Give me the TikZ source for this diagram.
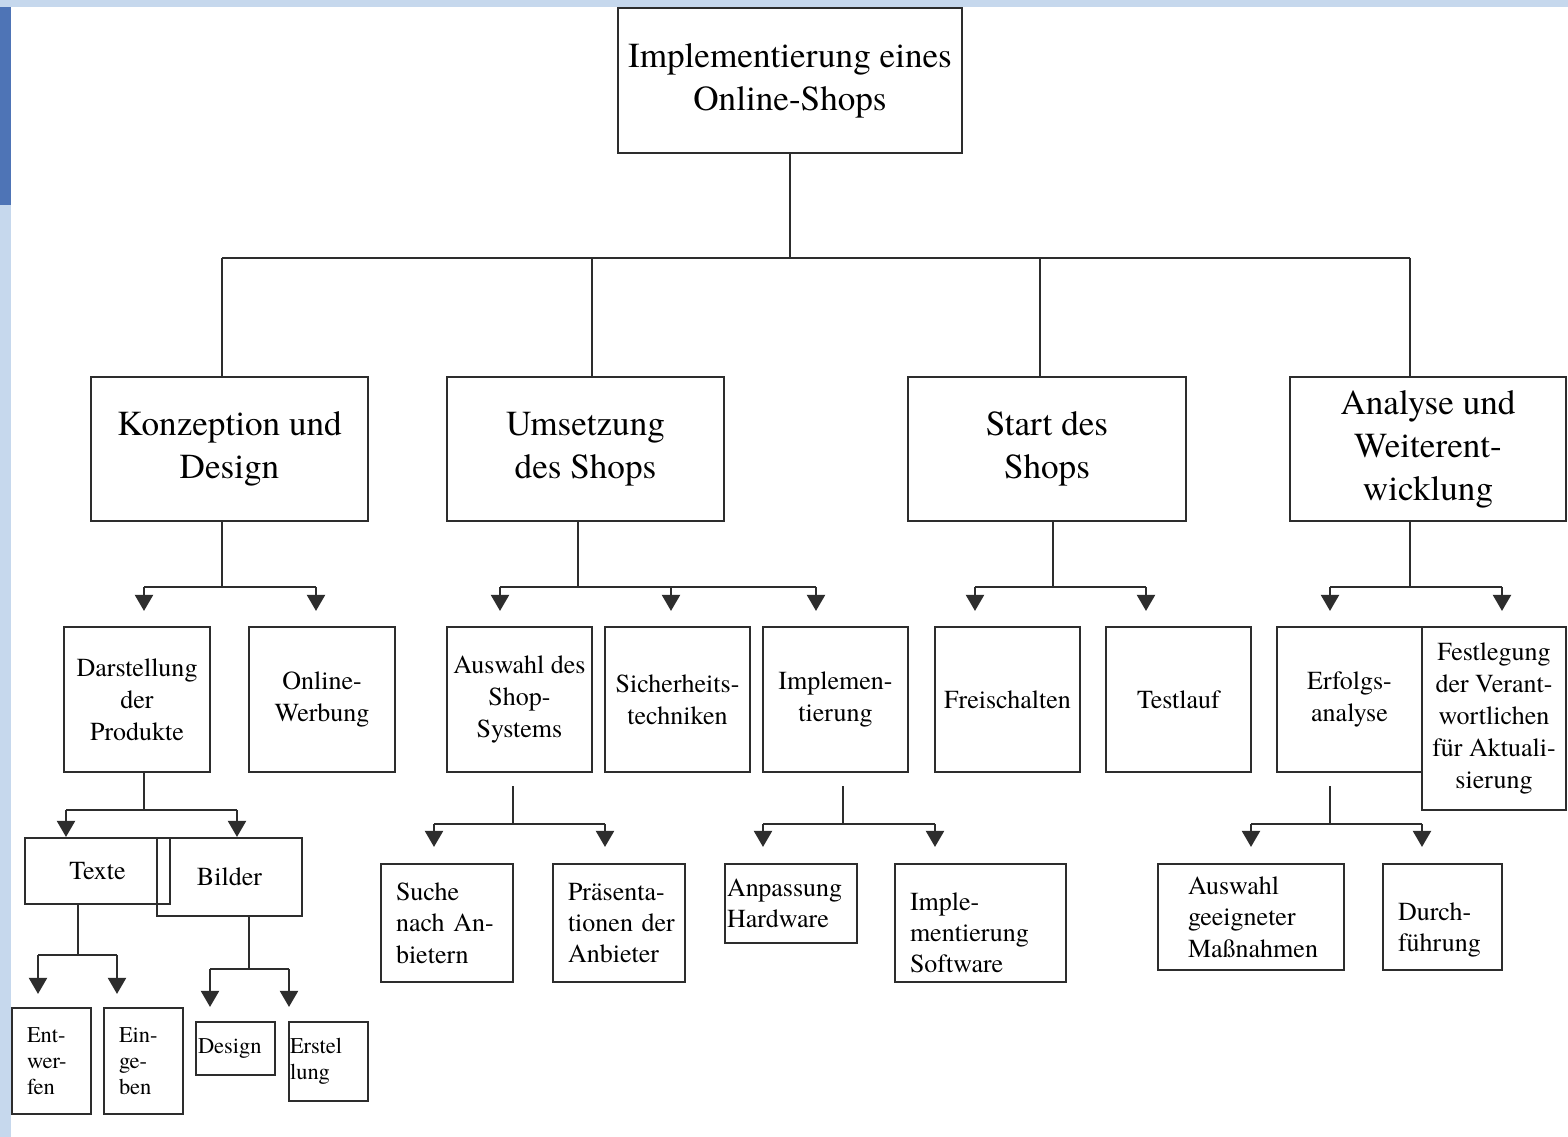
\documentclass[tikz,border=0pt]{standalone}
\usepackage{fontspec}
\IfFontExistsTF{texgyretermes-regular.otf}
  {\setmainfont{texgyretermes-regular.otf}}
  {\setmainfont{lmroman10-regular.otf}}
\usetikzlibrary{arrows.meta}

\definecolor{cframe}{RGB}{198,216,237}
\definecolor{cstrip}{RGB}{78,116,182}
\definecolor{cline}{RGB}{45,45,45}

\begin{document}
\begin{tikzpicture}[x=0.1mm,y=-0.1mm,
        box/.style 2 args={draw=cline,line width=0.6pt,inner sep=0pt,align=center,
          minimum width=#1mm,minimum height=#2mm},
        lft/.style={align=left,text width=#1mm,
          execute at begin node={\hyphenpenalty=10000\exhyphenpenalty=10000}},
        big/.style={font=\fontsize{10}{12.2}\selectfont},
        mid/.style={font=\fontsize{7.4}{9.1}\selectfont},
        sml/.style={font=\fontsize{7.4}{8.9}\selectfont},
        xs/.style={font=\fontsize{6.4}{7.4}\selectfont},
        ln/.style={draw=cline,line width=0.6pt},
        arr/.style={ln,-{Triangle[length=1.6mm,width=1.8mm]},shorten >=#1},
        arr/.default=0mm]

      \useasboundingbox (0,0) rectangle (1568,1137);
      \fill[cframe] (0,0) rectangle (1568,1137);
      \fill[cstrip] (0,7) rectangle (11,205);
      \fill[white] (11,7) rectangle (1568,1137);

      % root and main phases
      \node[box={34.4}{14.5},big] (shop)  at (790,80.5) {Implementierung eines\\Online-Shops};
      \node[box={27.7}{14.4},big] (konz)  at (229.5,449) {Konzeption und\\Design};
      \node[box={27.7}{14.4},big] (ums)   at (585.5,449) {Umsetzung\\des Shops};
      \node[box={27.8}{14.4},big] (start) at (1047,449)  {Start des\\Shops};
      \node[box={27.6}{14.4},big] (anal)  at (1428,449)  {Analyse und\\Weiterent-\\wicklung};

      % second level
      \node[box={14.6}{14.5},mid] (darst) at (137,699.5)   {Darstellung\\der\\Produkte};
      \node[box={14.6}{14.5},mid] (onl)   at (322,699.5)   {Online-\\Werbung};
      \node[box={14.5}{14.5},mid] (ausw)  at (519.5,699.5) {Auswahl des\\Shop-\\Systems};
      \node[box={14.5}{14.5},mid] (sich)  at (677.5,699.5) {Sicherheits-\\techniken};
      \node[box={14.5}{14.5},mid] (impl)  at (835.5,699.5) {Implemen-\\tierung};
      \node[box={14.5}{14.5},mid] (frei)  at (1007.5,699.5) {Freischalten};
      \node[box={14.5}{14.5},mid] (test)  at (1178.5,699.5) {Testlauf};
      \node[box={14.5}{14.5},mid] (erf)   at (1349.5,699.5) {Erfolgs-\\analyse};
      \node[box={14.4}{18.3},mid] (fest)  at (1494,718.5)  {Festlegung\\der Verant-\\wortlichen\\für Aktuali-\\sierung};

      % third level
      \node[box={14.5}{6.6},sml] (texte)  at (97.5,871) {Texte};
      \node[box={14.5}{7.8},sml] (bilder) at (229.5,877) {Bilder};
      \node[box={13.2}{11.8},sml,lft=10.2] (suche) at (447,923)    {Suche\\nach~An-\\bietern};
      \node[box={13.2}{11.8},sml,lft=10.2] (praes) at (619,923)    {Präsenta-\\tionen~der\\Anbieter};
      \node[box={13.2}{7.9},sml,lft=12.8]  (anp)   at (791,903.5)  {Anpassung\\Hardware};
      \node[box={17.1}{11.8},sml,lft=14.1] (imps)  at (980.5,923)  {\rule{0pt}{3.7mm}Imple-\\mentierung\\Software};
      \node[box={18.6}{10.6},sml,lft=12.6] (ausg)  at (1251,917)   {Auswahl\\geeigneter\\Maßnahmen};
      \node[box={11.9}{10.6},sml,lft=8.9]  (durch) at (1442.5,917) {\rule{0pt}{4.3mm}Durch-\\führung};

      % fourth level
      \node[box={7.9}{10.6},xs,lft=4.9] (entw) at (51.5,1061)   {Ent-\\wer-\\fen};
      \node[box={7.9}{10.6},xs,lft=4.9] (eing) at (143.5,1061)  {Ein-\\ge-\\ben};
      \node[box={7.9}{5.3},xs,lft=7.5]  (desg) at (235.5,1048.5) {Design};
      \node[box={7.9}{7.9},xs,lft=7.7]  (erst) at (328.5,1061.5) {Erstel\\lung};

      % root -> phases
      \coordinate (j0) at (790,258);
      \coordinate (j1) at (222,258);
      \coordinate (j2) at (592,258);
      \coordinate (j3) at (1040,258);
      \coordinate (j4) at (1410,258);
      \draw[ln] (shop.south) -- (j0);
      \draw[ln] (j1) -- (j4);
      \draw[ln] (j1) -- (j1 |- konz.north);
      \draw[ln] (j2) -- (j2 |- ums.north);
      \draw[ln] (j3) -- (j3 |- start.north);
      \draw[ln] (j4) -- (j4 |- anal.north);

      % Konzeption und Design
      \coordinate (ka) at (222,587);
      \coordinate (ka1) at (144,587);
      \coordinate (ka2) at (316,587);
      \draw[ln] (ka |- konz.south) -- (ka);
      \draw[ln] (ka1) -- (ka2);
      \draw[arr=1.5mm] (ka1) -- (ka1 |- darst.north);
      \draw[arr=1.5mm] (ka2) -- (ka2 |- onl.north);

      % Umsetzung des Shops
      \coordinate (ua) at (578,587);
      \coordinate (ua1) at (500,587);
      \coordinate (ua2) at (671,587);
      \coordinate (ua3) at (816,587);
      \draw[ln] (ua |- ums.south) -- (ua);
      \draw[ln] (ua1) -- (ua3);
      \draw[arr=1.5mm] (ua1) -- (ua1 |- ausw.north);
      \draw[arr=1.5mm] (ua2) -- (ua2 |- sich.north);
      \draw[arr=1.5mm] (ua3) -- (ua3 |- impl.north);

      % Start des Shops
      \coordinate (sa) at (1053,587);
      \coordinate (sa1) at (975,587);
      \coordinate (sa2) at (1146,587);
      \draw[ln] (sa |- start.south) -- (sa);
      \draw[ln] (sa1) -- (sa2);
      \draw[arr=1.5mm] (sa1) -- (sa1 |- frei.north);
      \draw[arr=1.5mm] (sa2) -- (sa2 |- test.north);

      % Analyse und Weiterentwicklung
      \coordinate (aa) at (1410,587);
      \coordinate (aa1) at (1330,587);
      \coordinate (aa2) at (1502,587);
      \draw[ln] (aa |- anal.south) -- (aa);
      \draw[ln] (aa1) -- (aa2);
      \draw[arr=1.5mm] (aa1) -- (aa1 |- erf.north);
      \draw[arr=1.5mm] (aa2) -- (aa2 |- fest.north);

      % Darstellung der Produkte
      \coordinate (da) at (144,810);
      \coordinate (da1) at (66,810);
      \coordinate (da2) at (237,810);
      \draw[ln] (da |- darst.south) -- (da);
      \draw[ln] (da1) -- (da2);
      \draw[arr] (da1) -- (da1 |- texte.north);
      \draw[arr] (da2) -- (da2 |- bilder.north);

      % Auswahl des Shop-Systems
      \coordinate (wa) at (513,824);
      \coordinate (wa1) at (434,824);
      \coordinate (wa2) at (605,824);
      \draw[ln,shorten <=1.3mm] (wa |- ausw.south) -- (wa);
      \draw[ln] (wa1) -- (wa2);
      \draw[arr=1.6mm] (wa1) -- (wa1 |- suche.north);
      \draw[arr=1.6mm] (wa2) -- (wa2 |- praes.north);

      % Implementierung
      \coordinate (ia) at (843,824);
      \coordinate (ia1) at (763,824);
      \coordinate (ia2) at (935,824);
      \draw[ln,shorten <=1.3mm] (ia |- impl.south) -- (ia);
      \draw[ln] (ia1) -- (ia2);
      \draw[arr=1.6mm] (ia1) -- (ia1 |- anp.north);
      \draw[arr=1.6mm] (ia2) -- (ia2 |- imps.north);

      % Erfolgsanalyse
      \coordinate (ea) at (1330,824);
      \coordinate (ea1) at (1251,824);
      \coordinate (ea2) at (1422,824);
      \draw[ln,shorten <=1.3mm] (ea |- erf.south) -- (ea);
      \draw[ln] (ea1) -- (ea2);
      \draw[arr=1.6mm] (ea1) -- (ea1 |- ausg.north);
      \draw[arr=1.6mm] (ea2) -- (ea2 |- durch.north);

      % Texte
      \coordinate (ta) at (78,955);
      \coordinate (ta1) at (38,955);
      \coordinate (ta2) at (117,955);
      \draw[ln] (ta |- texte.south) -- (ta);
      \draw[ln] (ta1) -- (ta2);
      \draw[arr=1.3mm] (ta1) -- (ta1 |- entw.north);
      \draw[arr=1.3mm] (ta2) -- (ta2 |- eing.north);

      % Bilder
      \coordinate (ba) at (249,969);
      \coordinate (ba1) at (210,969);
      \coordinate (ba2) at (289,969);
      \draw[ln] (ba |- bilder.south) -- (ba);
      \draw[ln] (ba1) -- (ba2);
      \draw[arr=1.4mm] (ba1) -- (ba1 |- desg.north);
      \draw[arr=1.4mm] (ba2) -- (ba2 |- erst.north);
    \end{tikzpicture}
\end{document}
